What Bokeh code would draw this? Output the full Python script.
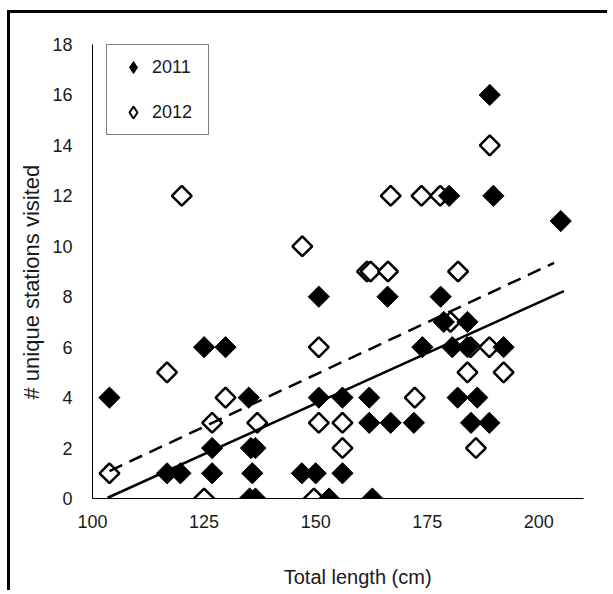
import numpy as np
from bokeh.plotting import figure
from bokeh.models import Range1d, FixedTicker, Legend, LegendItem, Title, Label, ColumnDataSource
from bokeh.embed import file_html
from bokeh.resources import INLINE

# ---- data ----
len_2011 = [103.8, 116.7, 119.7, 125.0, 129.8, 126.8, 126.8, 135.0, 135.5, 136.5,
            135.8, 135.2, 136.5, 146.9, 150.0, 156.0, 153.0, 162.7, 150.7, 156.0,
            162.0, 162.0, 166.8, 172.0, 173.9, 178.7, 184.0, 180.6, 184.0,
            192.1, 181.8, 186.2, 184.8, 188.9, 150.7, 166.1, 178.0, 179.9, 189.8,
            189.0, 204.9]
st_2011 = [4, 1, 1, 6, 6, 2, 1, 4, 2, 2,
           1, 0, 0, 1, 1, 1, 0, 0, 4, 4,
           4, 3, 3, 3, 6, 7, 7, 6, 6,
           6, 4, 4, 3, 3, 8, 8, 8, 12, 12,
           16, 11]

len_2012 = [103.8, 116.7, 120.0, 129.8, 126.8, 125.0, 136.9, 147.0, 166.8, 173.7,
            177.9, 161.5, 162.3, 166.2, 181.9, 150.7, 150.7, 156.0, 156.0, 149.6,
            172.2, 184.0, 192.1, 185.9, 184.7, 188.9, 189.0, 180.2]
st_2012 = [1, 5, 12, 4, 3, 0, 3, 10, 12, 12,
           12, 9, 9, 9, 9, 6, 3, 3, 2, 0,
           4, 5, 5, 2, 6, 6, 14, 7]

trend_x_2011 = [103.4, 205.6]
trend_y_2011 = [0.03, 8.22]
trend_x_2012 = [103.8, 203.4]
trend_y_2012 = [1.09, 9.34]

x_ticks = [100, 125, 150, 175, 200]
y_ticks = [0, 2, 4, 6, 8, 10, 12, 14, 16, 18]
series_labels = ["2011", "2012"]
x_title = "Total length (cm)"
y_title = "# unique stations visited"

FONT = "Liberation Sans"
TXT = "#1a1a1a"

p = figure(width=600, height=580, output_backend="svg", toolbar_location=None,
           x_range=Range1d(100, 210), y_range=Range1d(0, 18),
           min_border_left=82, min_border_right=27, min_border_top=31, min_border_bottom=95)
p.styles = {"border-left": "3px solid black", "border-top": "3px solid black",
            "margin-top": "10px", "margin-left": "7px"}
p.outline_line_color = None
p.xgrid.visible = False
p.ygrid.visible = False
p.background_fill_color = "white"
p.border_fill_color = "white"

for ax in (p.xaxis[0], p.yaxis[0]):
    ax.axis_line_color = "black"
    ax.axis_line_width = 1
    ax.major_tick_in = 0
    ax.major_tick_out = 0
    ax.minor_tick_in = 0
    ax.minor_tick_out = 0
    ax.major_label_text_font = FONT
    ax.major_label_text_font_size = "18px"
    ax.major_label_text_color = TXT
p.xaxis.ticker = FixedTicker(ticks=x_ticks)
p.yaxis.ticker = FixedTicker(ticks=y_ticks)
p.xaxis.major_label_standoff = 16
p.yaxis.major_label_standoff = 20

src12 = ColumnDataSource(dict(x=len_2012, y=st_2012))
src11 = ColumnDataSource(dict(x=len_2011, y=st_2011))

r12 = p.scatter("x", "y", source=src12, marker="square", angle=np.pi / 4, size=14,
                fill_color="white", line_color="black", line_width=2.5)
r11 = p.scatter("x", "y", source=src11, marker="square", angle=np.pi / 4, size=15,
                fill_color="black", line_color="black", line_width=1)

p.line(trend_x_2011, trend_y_2011, line_color="black", line_width=2.5)
p.line(trend_x_2012, trend_y_2012, line_color="black", line_width=2.5, line_dash="14 8")

# legend key glyphs (a single NaN point each, so only the legend shows them)
k11 = p.scatter(x=[np.nan], y=[np.nan], marker="diamond", fill_color="black",
                line_color="black", line_width=1)
k12 = p.scatter(x=[np.nan], y=[np.nan], marker="diamond", fill_color="white",
                line_color="black", line_width=2)

legend = Legend(items=[LegendItem(label=series_labels[0], renderers=[k11]),
                       LegendItem(label=series_labels[1], renderers=[k12])],
                location=(14, 363), orientation="vertical",
                padding=7, margin=0, spacing=15,
                glyph_width=38, glyph_height=30, label_height=20, label_width=49,
                label_standoff=0,
                label_text_font=FONT, label_text_font_size="18px", label_text_color=TXT,
                border_line_color="black", border_line_width=1,
                background_fill_color="white", background_fill_alpha=1)
p.add_layout(legend, "center")

# x title: a label in the bottom panel, placed with the plot's own scales
p.add_layout(Label(x=159.4, y=-3.13, text=x_title, text_align="center", text_baseline="middle",
                   text_font=FONT, text_font_size="20px", text_color=TXT), "below")
p.add_layout(Title(text=y_title, align="left", offset=99, standoff=12,
                   text_font=FONT, text_font_size="22px", text_font_style="normal",
                   text_color=TXT), "left")

open("out.html", "w").write(file_html(p, INLINE))
